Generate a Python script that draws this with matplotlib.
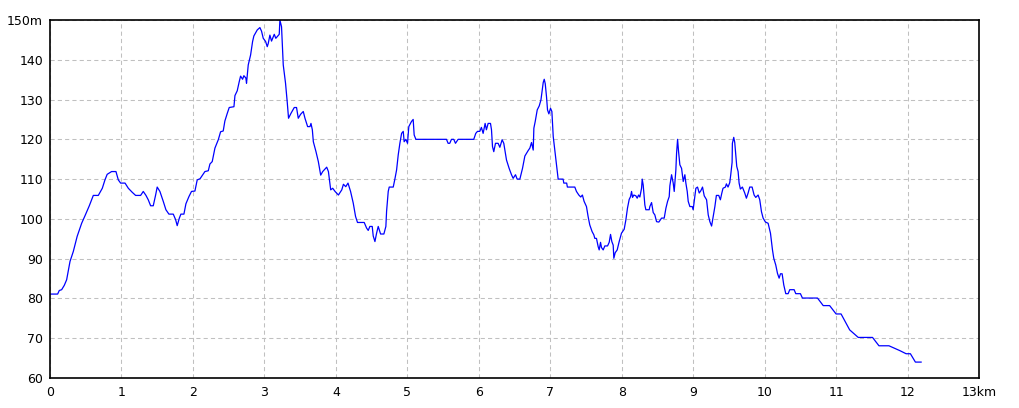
import matplotlib
matplotlib.use("Agg")
import matplotlib.pyplot as plt

# elevation profile (km, m)
dist_km = [
    0.0, 0.107, 0.13, 0.163, 0.2, 0.233, 0.28, 0.326, 0.38, 0.443, 0.49, 0.55, 0.606, 0.676,
    0.732, 0.769, 0.80, 0.862, 0.923, 0.956, 0.988, 1.05, 1.096, 1.15, 1.198, 1.268, 1.305,
    1.343, 1.375, 1.408, 1.445, 1.478, 1.50, 1.538, 1.585, 1.622, 1.664, 1.725, 1.758, 1.78,
    1.81, 1.832, 1.874, 1.902, 1.944, 1.98, 2.028, 2.06, 2.1, 2.168, 2.215, 2.238, 2.27,
    2.308, 2.355, 2.387, 2.424, 2.447, 2.48, 2.508, 2.574, 2.588, 2.62, 2.648, 2.667, 2.695,
    2.713, 2.741, 2.75, 2.774, 2.807, 2.835, 2.853, 2.9, 2.937, 2.96, 2.984, 3.017, 3.04,
    3.054, 3.077, 3.1, 3.138, 3.16, 3.208, 3.217, 3.24, 3.264, 3.296, 3.32, 3.338, 3.371,
    3.418, 3.45, 3.474, 3.507, 3.544, 3.568, 3.605, 3.638, 3.652, 3.671, 3.685, 3.722,
    3.755, 3.788, 3.816, 3.872, 3.896, 3.928, 3.956, 3.989, 4.036, 4.083, 4.106, 4.139,
    4.17, 4.206, 4.243, 4.276, 4.303, 4.397, 4.43, 4.453, 4.476, 4.509, 4.523, 4.547, 4.57,
    4.593, 4.626, 4.672, 4.70, 4.71, 4.733, 4.747, 4.803, 4.826, 4.85, 4.873, 4.896, 4.92,
    4.943, 4.956, 4.98, 5.003, 5.021, 5.059, 5.082, 5.096, 5.12, 5.548, 5.571, 5.594,
    5.618, 5.65, 5.674, 5.711, 5.93, 5.958, 5.982, 6.014, 6.037, 6.061, 6.089, 6.107,
    6.131, 6.164, 6.178, 6.192, 6.21, 6.234, 6.271, 6.295, 6.327, 6.35, 6.388, 6.425,
    6.458, 6.481, 6.514, 6.537, 6.575, 6.612, 6.645, 6.692, 6.715, 6.738, 6.762, 6.771,
    6.79, 6.818, 6.846, 6.87, 6.888, 6.902, 6.916, 6.93, 6.948, 6.962, 6.981, 7.004, 7.023,
    7.042, 7.074, 7.102, 7.111, 7.18, 7.19, 7.23, 7.24, 7.344, 7.367, 7.40, 7.427, 7.45,
    7.474, 7.507, 7.53, 7.553, 7.586, 7.61, 7.624, 7.647, 7.671, 7.685, 7.704, 7.717, 7.741,
    7.764, 7.802, 7.825, 7.844, 7.862, 7.881, 7.89, 7.909, 7.937, 7.965, 7.997, 8.035,
    8.058, 8.081, 8.105, 8.124, 8.138, 8.152, 8.17, 8.198, 8.217, 8.236, 8.254, 8.278,
    8.287, 8.301, 8.315, 8.324, 8.338, 8.385, 8.394, 8.418, 8.441, 8.464, 8.488, 8.52,
    8.558, 8.595, 8.619, 8.642, 8.665, 8.674, 8.698, 8.721, 8.735, 8.758, 8.768, 8.782,
    8.796, 8.814, 8.838, 8.861, 8.884, 8.898, 8.917, 8.931, 8.954, 8.987, 9.0, 9.024,
    9.038, 9.061, 9.085, 9.108, 9.131, 9.155, 9.188, 9.211, 9.234, 9.258, 9.281, 9.304,
    9.325, 9.358, 9.381, 9.4, 9.418, 9.451, 9.465, 9.488, 9.512, 9.526, 9.545, 9.549,
    9.568, 9.582, 9.596, 9.61, 9.629, 9.643, 9.661, 9.689, 9.722, 9.745, 9.769, 9.792,
    9.825, 9.853, 9.876, 9.909, 9.932, 9.956, 9.979, 10.012, 10.049, 10.082, 10.11,
    10.128, 10.156, 10.18, 10.203, 10.222, 10.245, 10.268, 10.296, 10.329, 10.352, 10.413,
    10.436, 10.501, 10.529, 10.74, 10.82, 10.91, 11.0, 11.07, 11.19, 11.31, 11.51, 11.6,
    11.74, 11.89, 11.98, 12.04, 12.11, 12.19,
]
elev_m = [
    81.1, 81.1, 82.0, 82.2, 83.3, 84.7, 89.3, 91.8, 95.6, 98.9, 100.8, 103.3, 105.9, 105.9,
    107.7, 109.8, 111.2, 111.9, 111.9, 109.8, 109.0, 109.0, 107.7, 106.7, 105.9, 105.9, 106.9,
    105.9, 104.8, 103.3, 103.3, 106.0, 108.0, 106.9, 104.4, 102.3, 101.2, 101.2, 99.8, 98.3,
    100.2, 101.2, 101.2, 103.8, 105.6, 106.9, 107.0, 109.8, 110.1, 111.9, 112.1, 113.8, 114.4,
    117.8, 119.9, 121.9, 122.1, 124.6, 126.5, 128.0, 128.2, 131.0, 132.2, 134.5, 135.9, 135.1,
    136.0, 135.4, 134.1, 138.7, 141.2, 144.6, 146.0, 147.5, 148.1, 147.2, 145.4, 144.6, 143.3,
    144.1, 146.2, 144.7, 146.4, 145.4, 146.4, 150.0, 148.3, 138.7, 134.1, 129.3, 125.3, 126.5,
    128.0, 128.0, 125.3, 126.3, 127.0, 125.3, 123.2, 123.2, 124.0, 122.4, 119.4, 116.9,
    114.4, 111.0, 111.9, 113.0, 111.9, 107.3, 107.7, 106.9, 106.0, 107.3, 108.7, 108.1,
    109.0, 106.9, 104.0, 100.6, 99.1, 99.1, 97.7, 97.1, 98.1, 98.1, 95.7, 94.3, 96.4,
    98.1, 96.2, 96.2, 98.1, 101.9, 106.9, 108.0, 108.0, 110.0, 112.3, 116.1, 119.0, 121.5,
    122.0, 119.4, 120.0, 119.0, 123.2, 124.5, 125.0, 121.1, 120.0, 120.0, 119.0, 119.0,
    120.0, 120.0, 119.0, 120.0, 120.0, 121.5, 122.0, 122.0, 123.0, 121.5, 124.0, 122.4,
    124.0, 124.0, 122.4, 118.2, 116.9, 119.0, 119.0, 118.0, 119.9, 119.0, 114.8, 112.7,
    111.1, 110.2, 111.1, 110.0, 110.0, 112.7, 115.8, 117.2, 117.8, 119.2, 117.3, 122.8,
    124.5, 127.4, 128.4, 129.9, 132.4, 134.3, 135.1, 134.0, 130.7, 127.4, 126.4, 127.8, 127.0,
    120.7, 115.7, 111.1, 110.0, 110.0, 109.0, 109.0, 108.0, 108.0, 106.9, 106.0, 105.5, 106.0,
    104.4, 103.1, 100.6, 98.5, 96.8, 96.0, 95.1, 95.1, 93.0, 92.2, 94.1, 92.8, 92.2,
    93.2, 93.2, 94.1, 96.1, 94.3, 93.4, 90.1, 91.5, 92.2, 94.3, 96.4, 97.4,
    99.7, 102.7, 104.9, 105.6, 106.9, 105.4, 106.0, 105.8, 105.2, 106.0, 105.5, 107.7,
    110.0, 108.5, 105.6, 103.5, 102.3, 102.3, 103.1, 104.1, 101.6, 101.0, 99.3, 99.2,
    100.2, 100.2, 102.7, 104.4, 105.6, 108.3, 111.1, 109.0, 106.9, 112.3, 116.5, 120.0,
    116.9, 113.6, 112.7, 109.4, 111.1, 109.0, 106.9, 104.4, 103.1, 103.1, 102.3, 105.6,
    107.7, 108.0, 106.5, 107.1, 108.0, 105.8, 104.8, 101.0, 99.3, 98.2, 100.6, 103.1,
    105.9, 105.9, 104.8, 106.4, 107.7, 108.0, 108.8, 108.0, 109.1, 111.1, 114.2, 119.0,
    120.5, 119.2, 116.1, 113.2, 111.9, 109.0, 107.5, 108.0, 106.5, 105.2, 106.5, 108.0,
    108.0, 106.0, 105.4, 106.0, 104.8, 101.8, 100.2, 99.2, 98.9, 96.4, 92.2,
    90.1, 88.4, 86.3, 85.1, 86.2, 86.2, 83.4, 81.2, 81.2, 82.2, 82.2,
    81.2, 81.2, 80.1, 80.1, 78.2, 78.2, 76.1, 76.1, 72.1, 70.2, 70.2, 68.1,
    68.1, 66.9, 66.1, 66.1, 64.0, 64.0,
]

x_ticks = list(range(0, 14))
x_labels = [str(k) for k in range(13)] + ['13km']
y_ticks = list(range(60, 160, 10))
y_labels = [str(v) for v in range(60, 150, 10)] + ['150m']

fig = plt.figure(figsize=(10.2, 4.08), dpi=100)
ax = fig.add_axes([50 / 1020, 1 - 378 / 408, 929 / 1020, 358 / 408])

ax.plot(dist_km, elev_m, color='#0000ff', linewidth=0.9)

ax.set_xlim(0, 13)
ax.set_ylim(60, 150)
ax.set_xticks(x_ticks)
ax.set_xticklabels(x_labels)
ax.set_yticks(y_ticks)
ax.set_yticklabels(y_labels)
ax.tick_params(length=0, labelsize=9, colors='black')
ax.tick_params(axis='y', pad=5)
ax.tick_params(axis='x', pad=6)

ax.grid(True, color='#c0c0c0', linewidth=0.75, linestyle=(0, (4, 3)))
ax.set_axisbelow(True)
for s in ax.spines.values():
    s.set_color('black')
    s.set_linewidth(1.2)

fig.savefig('out.png', dpi=100)
